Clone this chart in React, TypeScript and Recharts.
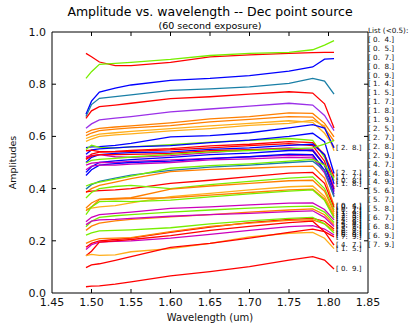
import { LineChart, Line, XAxis, YAxis, ReferenceLine } from "recharts";

const FONT = "'DejaVu Sans', sans-serif";

// wavelength samples (um)
const WAVE = [1.493, 1.5, 1.51, 1.53, 1.55, 1.6, 1.65, 1.7, 1.75, 1.78, 1.795, 1.807];
const X_TICKS = [1.45, 1.5, 1.55, 1.6, 1.65, 1.7, 1.75, 1.8, 1.85];
const Y_TICKS = [0, 0.2, 0.4, 0.6, 0.8, 1.0];

// amplitudes per baseline
const S01 = [0.918, 0.905, 0.885, 0.871, 0.871, 0.884, 0.905, 0.912, 0.918, 0.921, 0.922, 0.922];
const S02 = [0.822, 0.848, 0.876, 0.88, 0.884, 0.895, 0.91, 0.918, 0.922, 0.932, 0.95, 0.967];
const S03 = [0.685, 0.735, 0.77, 0.785, 0.797, 0.815, 0.822, 0.833, 0.85, 0.866, 0.896, 0.898];
const S04 = [0.676, 0.722, 0.746, 0.752, 0.759, 0.776, 0.782, 0.79, 0.803, 0.822, 0.812, 0.762];
const S05 = [0.669, 0.698, 0.714, 0.72, 0.727, 0.745, 0.752, 0.762, 0.771, 0.766, 0.725, 0.632];
const S06 = [0.631, 0.648, 0.663, 0.67, 0.676, 0.694, 0.705, 0.716, 0.727, 0.72, 0.68, 0.622];
const S07 = [0.614, 0.624, 0.631, 0.636, 0.64, 0.652, 0.667, 0.676, 0.69, 0.688, 0.65, 0.598];
const S08 = [0.603, 0.613, 0.622, 0.628, 0.633, 0.641, 0.656, 0.665, 0.676, 0.674, 0.632, 0.582];
const S09 = [0.592, 0.6, 0.609, 0.614, 0.619, 0.63, 0.64, 0.65, 0.66, 0.654, 0.612, 0.56];
const S10 = [0.581, 0.59, 0.6, 0.606, 0.61, 0.621, 0.63, 0.642, 0.65, 0.662, 0.64, 0.545];
const S11 = [0.557, 0.56, 0.561, 0.566, 0.573, 0.598, 0.603, 0.614, 0.633, 0.645, 0.632, 0.556];
const S12 = [0.55, 0.566, 0.558, 0.556, 0.56, 0.568, 0.578, 0.585, 0.592, 0.585, 0.52, 0.43];
const S13 = [0.532, 0.548, 0.552, 0.556, 0.56, 0.565, 0.576, 0.586, 0.6, 0.612, 0.58, 0.458];
const S14 = [0.545, 0.547, 0.542, 0.543, 0.546, 0.553, 0.564, 0.57, 0.58, 0.576, 0.53, 0.445];
const S15 = [0.515, 0.532, 0.54, 0.541, 0.543, 0.548, 0.556, 0.565, 0.572, 0.565, 0.505, 0.4];
const S16 = [0.5, 0.52, 0.53, 0.535, 0.538, 0.541, 0.55, 0.556, 0.566, 0.57, 0.53, 0.418];
const S17 = [0.522, 0.526, 0.53, 0.522, 0.52, 0.526, 0.538, 0.548, 0.556, 0.55, 0.49, 0.405];
const S18 = [0.512, 0.524, 0.53, 0.53, 0.531, 0.535, 0.545, 0.549, 0.552, 0.545, 0.49, 0.398];
const S19 = [0.498, 0.508, 0.512, 0.516, 0.521, 0.531, 0.541, 0.546, 0.552, 0.556, 0.57, 0.585];
const S20 = [0.462, 0.484, 0.5, 0.506, 0.511, 0.52, 0.53, 0.536, 0.546, 0.546, 0.49, 0.392];
const S21 = [0.49, 0.498, 0.5, 0.5, 0.504, 0.51, 0.516, 0.522, 0.527, 0.525, 0.47, 0.386];
const S22 = [0.45, 0.472, 0.49, 0.496, 0.5, 0.505, 0.515, 0.522, 0.532, 0.53, 0.47, 0.378];
const S23 = [0.472, 0.486, 0.49, 0.49, 0.494, 0.5, 0.51, 0.514, 0.52, 0.518, 0.46, 0.372];
const S24 = [0.398, 0.415, 0.428, 0.44, 0.452, 0.47, 0.482, 0.49, 0.5, 0.505, 0.47, 0.368];
const S25 = [0.41, 0.418, 0.425, 0.436, 0.448, 0.478, 0.488, 0.495, 0.505, 0.512, 0.49, 0.44];
const S26 = [0.385, 0.4, 0.412, 0.425, 0.438, 0.465, 0.474, 0.478, 0.484, 0.486, 0.44, 0.335];
const S27 = [0.388, 0.39, 0.392, 0.395, 0.4, 0.42, 0.432, 0.446, 0.459, 0.462, 0.42, 0.328];
const S28 = [0.364, 0.385, 0.4, 0.408, 0.412, 0.4, 0.415, 0.428, 0.44, 0.445, 0.4, 0.318];
const S29 = [0.326, 0.345, 0.36, 0.362, 0.365, 0.398, 0.41, 0.42, 0.43, 0.432, 0.39, 0.31];
const S30 = [0.32, 0.325, 0.33, 0.335, 0.345, 0.369, 0.382, 0.395, 0.407, 0.41, 0.37, 0.302];
const S31 = [0.315, 0.33, 0.358, 0.36, 0.362, 0.365, 0.375, 0.385, 0.395, 0.398, 0.36, 0.295];
const S32 = [0.3, 0.33, 0.35, 0.352, 0.35, 0.356, 0.368, 0.38, 0.39, 0.395, 0.355, 0.288];
const S33 = [0.273, 0.29, 0.3, 0.305, 0.31, 0.324, 0.33, 0.338, 0.344, 0.345, 0.32, 0.28];
const S34 = [0.254, 0.275, 0.29, 0.296, 0.3, 0.31, 0.318, 0.325, 0.331, 0.333, 0.31, 0.27];
const S35 = [0.24, 0.256, 0.268, 0.276, 0.282, 0.292, 0.3, 0.31, 0.318, 0.322, 0.3, 0.262];
const S36 = [0.262, 0.275, 0.28, 0.282, 0.286, 0.294, 0.3, 0.305, 0.312, 0.315, 0.29, 0.255];
const S37 = [0.175, 0.19, 0.2, 0.205, 0.21, 0.232, 0.252, 0.27, 0.282, 0.286, 0.275, 0.245];
const S38 = [0.19, 0.2, 0.208, 0.21, 0.212, 0.235, 0.255, 0.268, 0.278, 0.28, 0.265, 0.238];
const S39 = [0.222, 0.23, 0.238, 0.24, 0.242, 0.25, 0.265, 0.276, 0.286, 0.29, 0.265, 0.23];
const S40 = [0.167, 0.185, 0.195, 0.198, 0.2, 0.21, 0.225, 0.24, 0.254, 0.258, 0.245, 0.222];
const S41 = [0.143, 0.16, 0.195, 0.2, 0.205, 0.22, 0.24, 0.255, 0.27, 0.275, 0.235, 0.183];
const S42 = [0.143, 0.148, 0.144, 0.146, 0.158, 0.17, 0.19, 0.215, 0.229, 0.232, 0.21, 0.17];
const S43 = [0.097, 0.108, 0.112, 0.125, 0.139, 0.175, 0.19, 0.21, 0.232, 0.245, 0.235, 0.215];
const S44 = [0.024, 0.026, 0.027, 0.034, 0.043, 0.066, 0.082, 0.101, 0.126, 0.139, 0.126, 0.092];

// baselines listed at the right (<0.5)
const LOW_LIST = [
  "[ 0.  4.]", "[ 0.  5.]", "[ 0.  7.]", "[ 0.  8.]", "[ 0.  9.]", "[ 1.  4.]",
  "[ 1.  5.]", "[ 1.  7.]", "[ 1.  8.]", "[ 1.  9.]", "[ 2.  5.]", "[ 2.  7.]",
  "[ 2.  8.]", "[ 2.  9.]", "[ 4.  7.]", "[ 4.  8.]", "[ 4.  9.]", "[ 5.  6.]",
  "[ 5.  7.]", "[ 5.  8.]", "[ 6.  7.]", "[ 6.  8.]", "[ 6.  9.]", "[ 7.  9.]",
];

const RED = "#ff0000";
const GREEN = "#77ee00";
const BLUE = "#0000ff";
const TEAL = "#1a7fa6";
const PURPLE = "#9b30e8";
const ORANGE = "#ff7f00";
const LORANGE = "#ffae1a";
const MAGENTA = "#cc00bb";

type Series = { key: string; color: string; values: number[]; tag?: string };

const SERIES: Series[] = [
  { key: "s01", color: RED, values: S01 },
  { key: "s02", color: GREEN, values: S02 },
  { key: "s03", color: BLUE, values: S03 },
  { key: "s04", color: TEAL, values: S04 },
  { key: "s05", color: RED, values: S05 },
  { key: "s06", color: PURPLE, values: S06 },
  { key: "s07", color: ORANGE, values: S07 },
  { key: "s08", color: ORANGE, values: S08 },
  { key: "s09", color: LORANGE, values: S09 },
  { key: "s10", color: LORANGE, values: S10 },
  { key: "s11", color: BLUE, values: S11, tag: "[ 2.  8.]" },
  { key: "s12", color: GREEN, values: S12, tag: "[ 0.  8.]" },
  { key: "s13", color: BLUE, values: S13, tag: "[ 2.  7.]" },
  { key: "s14", color: RED, values: S14, tag: "[ 1.  7.]" },
  { key: "s15", color: RED, values: S15 },
  { key: "s16", color: BLUE, values: S16, tag: "[ 1.  8.]" },
  { key: "s17", color: MAGENTA, values: S17 },
  { key: "s18", color: RED, values: S18 },
  { key: "s19", color: GREEN, values: S19 },
  { key: "s20", color: BLUE, values: S20 },
  { key: "s21", color: MAGENTA, values: S21 },
  { key: "s22", color: BLUE, values: S22 },
  { key: "s23", color: MAGENTA, values: S23 },
  { key: "s24", color: TEAL, values: S24 },
  { key: "s25", color: GREEN, values: S25 },
  { key: "s26", color: ORANGE, values: S26, tag: "[ 0.  4.]" },
  { key: "s27", color: RED, values: S27, tag: "[ 0.  5.]" },
  { key: "s28", color: GREEN, values: S28, tag: "[ 0.  7.]" },
  { key: "s29", color: ORANGE, values: S29, tag: "[ 1.  4.]" },
  { key: "s30", color: LORANGE, values: S30, tag: "[ 1.  9.]" },
  { key: "s31", color: ORANGE, values: S31, tag: "[ 2.  5.]" },
  { key: "s32", color: GREEN, values: S32, tag: "[ 2.  9.]" },
  { key: "s33", color: MAGENTA, values: S33, tag: "[ 4.  8.]" },
  { key: "s34", color: GREEN, values: S34, tag: "[ 4.  9.]" },
  { key: "s35", color: ORANGE, values: S35, tag: "[ 5.  6.]" },
  { key: "s36", color: MAGENTA, values: S36, tag: "[ 5.  7.]" },
  { key: "s37", color: RED, values: S37, tag: "[ 5.  8.]" },
  { key: "s38", color: ORANGE, values: S38, tag: "[ 6.  7.]" },
  { key: "s39", color: GREEN, values: S39, tag: "[ 6.  8.]" },
  { key: "s40", color: MAGENTA, values: S40, tag: "[ 6.  9.]" },
  { key: "s41", color: RED, values: S41, tag: "[ 4.  7.]" },
  { key: "s42", color: LORANGE, values: S42, tag: "[ 1.  5.]" },
  { key: "s43", color: RED, values: S43, tag: "[ 7.  9.]" },
  { key: "s44", color: RED, values: S44, tag: "[ 0.  9.]" },
];

const data = WAVE.map((w, i) => {
  const row: Record<string, number> = { w };
  SERIES.forEach((s) => {
    row[s.key] = s.values[i];
  });
  return row;
});

const LAST = WAVE.length - 1;

// text tag drawn at the last point of a line
const endTag = (tag?: string) => (p: any) => {
  if (!tag || p.index !== LAST) return <g key={p.key} />;
  return (
    <text
      key={p.key}
      x={p.cx + 2}
      y={p.cy + 2}
      fontSize={7}
      fontFamily={FONT}
      fill="#111"
      style={{ whiteSpace: "pre" }}
    >
      {tag}
    </text>
  );
};

const tickStyle = { fontSize: 11, fill: "#111", fontFamily: FONT };
const DX = 0.0051;
const DY = 0.0153;

export default function App() {
  return (
    <div style={{ position: "absolute", left: 0, top: 0, width: 409, height: 327, background: "#fff", fontFamily: FONT }}>
      <div style={{ position: "absolute", left: 0, width: 420, top: 4, textAlign: "center", fontSize: 12.5, lineHeight: "15px", color: "#000" }}>
        Amplitude vs. wavelength -- Dec point source
      </div>
      <div style={{ position: "absolute", left: 0, width: 420, top: 20, textAlign: "center", fontSize: 9.5, lineHeight: "12px", color: "#000" }}>
        (60 second exposure)
      </div>
      <div style={{ position: "absolute", left: 368, top: 27, fontSize: 7.2, lineHeight: "8.9px", color: "#111", whiteSpace: "pre" }}>
        {["List (<0.5):", ...LOW_LIST].map((t) => (
          <div key={t}>{t}</div>
        ))}
      </div>
      <LineChart
        width={409}
        height={327}
        data={data}
        margin={{ top: 32, right: 41, left: 0, bottom: 0 }}
        style={{ position: "absolute", left: 0, top: 0 }}
      >
        <XAxis
          dataKey="w"
          type="number"
          domain={[1.45, 1.85]}
          ticks={X_TICKS}
          interval={0}
          allowDataOverflow
          tickFormatter={(v: number) => v.toFixed(2)}
          height={34}
          tickLine={false}
          tickSize={0}
          tickMargin={5}
          axisLine={{ stroke: "#000" }}
          tick={tickStyle}
          label={{ value: "Wavelength (um)", position: "insideBottom", offset: 6, fontSize: 10, fill: "#111", fontFamily: FONT }}
        />
        <YAxis
          type="number"
          domain={[0, 1]}
          ticks={Y_TICKS}
          interval={0}
          allowDataOverflow
          tickFormatter={(v: number) => v.toFixed(1)}
          width={52}
          tickLine={false}
          tickSize={0}
          tickMargin={6}
          axisLine={{ stroke: "#000" }}
          tick={tickStyle}
          label={{ value: "Amplitudes", angle: -90, position: "insideLeft", offset: 13, fontSize: 9.5, fill: "#111", fontFamily: FONT, style: { textAnchor: "middle" } }}
        />
        <ReferenceLine y={1} stroke="#000" />
        <ReferenceLine x={1.85} stroke="#000" />
        {X_TICKS.slice(1, -1).map((t) => (
          <ReferenceLine key={`xb${t}`} segment={[{ x: t, y: 0 }, { x: t, y: DY }]} stroke="#000" />
        ))}
        {X_TICKS.slice(1, -1).map((t) => (
          <ReferenceLine key={`xt${t}`} segment={[{ x: t, y: 1 }, { x: t, y: 1 - DY }]} stroke="#000" />
        ))}
        {Y_TICKS.slice(1, -1).map((t) => (
          <ReferenceLine key={`yl${t}`} segment={[{ x: 1.45, y: t }, { x: 1.45 + DX, y: t }]} stroke="#000" />
        ))}
        {Y_TICKS.slice(1, -1).map((t) => (
          <ReferenceLine key={`yr${t}`} segment={[{ x: 1.85, y: t }, { x: 1.85 - DX, y: t }]} stroke="#000" />
        ))}
        {SERIES.map((s) => (
          <Line
            key={s.key}
            dataKey={s.key}
            type="linear"
            stroke={s.color}
            strokeWidth={1.3}
            dot={endTag(s.tag)}
            activeDot={false}
            isAnimationActive={false}
          />
        ))}
      </LineChart>
    </div>
  );
}
